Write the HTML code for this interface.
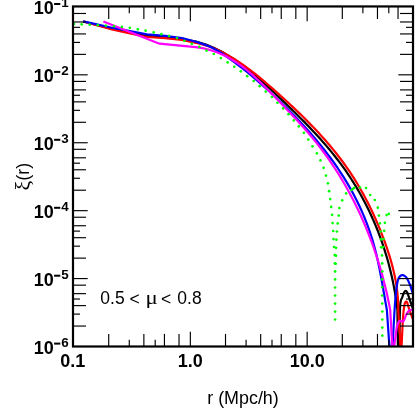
<!DOCTYPE html>
<html><head><meta charset="utf-8"><title>xi(r)</title>
<style>
html,body{margin:0;padding:0;background:#fff;}
body{width:415px;height:418px;overflow:hidden;position:relative;font-family:"Liberation Sans",sans-serif;}
svg text{font-family:"Liberation Sans",sans-serif;fill:#000;}
.b{font-weight:bold;font-size:18px;}
.s{font-weight:bold;font-size:13.4px;}
.r{font-size:17.5px;}
.g{font-family:"Liberation Serif",serif;font-size:17.5px;}
</style></head><body>
<svg width="415" height="418" viewBox="0 0 415 418" style="position:absolute;left:0;top:0;will-change:transform;opacity:0.9999">
<defs><clipPath id="cp"><rect x="73.0" y="6.45" width="340.0" height="340.05"/></clipPath></defs>
<rect x="0" y="0" width="415" height="418" fill="#fff"/>
<g fill="none" clip-path="url(#cp)" stroke-linejoin="round" stroke-linecap="butt">
<path d="M83.20,21.50 L111.00,28.50 L130.00,32.20 L147.00,35.70 L165.00,37.00 L182.00,39.00 L196.00,41.50 L205.96,44.65 L208.94,45.80 L211.88,47.02 L214.76,48.30 L217.60,49.66 L220.39,51.07 L223.14,52.55 L225.85,54.09 L228.52,55.68 L231.15,57.32 L233.75,59.01 L236.31,60.75 L238.84,62.53 L241.34,64.36 L243.82,66.22 L246.27,68.11 L248.69,70.04 L251.10,72.00 L253.48,73.99 L255.85,76.01 L258.20,78.05 L260.53,80.11 L262.85,82.19 L265.16,84.28 L267.46,86.39 L269.75,88.52 L272.03,90.65 L274.31,92.79 L276.59,94.94 L278.86,97.09 L281.13,99.24 L283.40,101.40 L285.66,103.57 L287.92,105.74 L290.18,107.91 L292.42,110.10 L294.66,112.29 L296.89,114.49 L299.11,116.70 L301.33,118.91 L303.53,121.14 L305.72,123.37 L307.89,125.62 L310.06,127.88 L312.21,130.15 L314.34,132.43 L316.46,134.72 L318.57,137.03 L320.65,139.35 L322.72,141.68 L324.77,144.03 L326.80,146.39 L328.81,148.77 L330.80,151.17 L332.77,153.58 L334.71,156.01 L336.63,158.46 L338.53,160.92 L340.40,163.41 L342.24,165.91 L344.06,168.43 L345.85,170.98 L347.62,173.54 L349.35,176.13 L351.05,178.73 L352.73,181.35 L354.38,184.00 L356.00,186.66 L357.59,189.34 L359.15,192.03 L360.69,194.75 L362.19,197.48 L363.67,200.23 L365.12,202.99 L366.54,205.77 L367.93,208.56 L369.29,211.38 L370.62,214.20 L371.92,217.04 L373.19,219.89 L374.44,222.76 L375.65,225.64 L376.83,228.53 L377.99,231.43 L379.11,234.35 L380.21,237.28 L381.27,240.22 L382.31,243.17 L383.31,246.13 L384.29,249.10 L385.24,252.08 L386.15,255.07 L387.04,258.06 L387.89,261.07 L388.72,264.08 L389.51,267.10 L390.27,270.13 L391.01,273.17 L391.71,276.21 L392.38,279.25 L393.02,282.31 L393.63,285.37 L394.21,288.43 L394.76,291.50 L395.28,294.57 L395.77,297.64 L396.22,300.72 L396.65,303.80 L397.04,306.89 L397.40,309.97 L398.00,352.00" stroke="#000" stroke-width="2.2"/>
<path d="M399.30,352.00 C399.43,344.43 399.60,315.73 400.10,306.60 C400.60,297.47 401.62,299.58 402.30,297.20 C402.98,294.82 403.62,293.35 404.20,292.30 C404.78,291.25 405.28,290.85 405.80,290.90 C406.32,290.95 406.78,291.55 407.30,292.60 C407.82,293.65 408.27,295.35 408.90,297.20 C409.53,299.05 410.25,301.23 411.10,303.70 C411.95,306.17 413.52,310.62 414.00,312.00" stroke="#000" stroke-width="2.2"/>
<path d="M83.20,21.50 L112.00,29.50 L130.00,33.30 L147.00,37.00 L165.00,38.20 L182.00,40.00 L196.00,42.80 L205.99,45.35 L209.00,46.43 L211.96,47.58 L214.87,48.80 L217.75,50.09 L220.58,51.44 L223.38,52.85 L226.14,54.32 L228.87,55.84 L231.56,57.41 L234.22,59.04 L236.85,60.71 L239.46,62.43 L242.03,64.18 L244.58,65.98 L247.11,67.81 L249.62,69.67 L252.11,71.57 L254.57,73.49 L257.02,75.45 L259.46,77.42 L261.88,79.42 L264.28,81.44 L266.67,83.48 L269.05,85.53 L271.43,87.60 L273.79,89.68 L276.15,91.77 L278.50,93.86 L280.84,95.97 L283.18,98.08 L285.51,100.20 L287.83,102.33 L290.14,104.47 L292.44,106.62 L294.74,108.78 L297.02,110.95 L299.29,113.13 L301.54,115.32 L303.79,117.53 L306.02,119.74 L308.23,121.97 L310.43,124.22 L312.62,126.47 L314.78,128.74 L316.93,131.03 L319.07,133.33 L321.18,135.64 L323.28,137.97 L325.35,140.32 L327.40,142.68 L329.44,145.06 L331.45,147.46 L333.43,149.87 L335.40,152.30 L337.34,154.75 L339.25,157.22 L341.14,159.71 L343.01,162.22 L344.84,164.75 L346.65,167.30 L348.43,169.87 L350.19,172.47 L351.91,175.08 L353.60,177.71 L355.27,180.37 L356.91,183.04 L358.52,185.73 L360.10,188.44 L361.65,191.17 L363.18,193.91 L364.68,196.68 L366.15,199.45 L367.59,202.25 L369.01,205.05 L370.40,207.88 L371.76,210.71 L373.10,213.56 L374.41,216.43 L375.69,219.30 L376.95,222.19 L378.18,225.09 L379.39,227.99 L380.57,230.91 L381.72,233.84 L382.85,236.78 L383.95,239.73 L385.03,242.68 L386.08,245.64 L387.11,248.61 L388.10,251.59 L389.06,254.58 L389.98,257.57 L390.87,260.58 L391.71,263.59 L392.52,266.61 L393.28,269.65 L393.99,272.69 L394.66,275.74 L395.28,278.80 L395.85,281.87 L396.36,284.95 L396.81,288.05 L397.21,291.15 L397.55,294.26 L397.82,297.39 L398.04,300.52 L398.18,303.67 L398.26,306.82 L398.26,309.99 L400.80,352.00" stroke="#f00" stroke-width="2.2"/>
<path d="M401.30,352.00 C401.58,346.33 402.50,325.75 403.00,318.00 C403.50,310.25 403.90,308.12 404.30,305.50 C404.70,302.88 405.07,302.95 405.40,302.30 C405.73,301.65 405.98,301.52 406.30,301.60 C406.62,301.68 406.88,301.73 407.30,302.80 C407.72,303.87 408.08,305.83 408.80,308.00 C409.52,310.17 410.73,313.47 411.60,315.80 C412.47,318.13 413.60,320.97 414.00,322.00" stroke="#f00" stroke-width="2.2"/>
<path d="M83.20,21.40 L110.00,27.30 L130.00,31.00 L147.00,34.30 L165.00,35.90 L182.00,38.00 L196.00,41.80 L206.03,45.16 L208.89,46.32 L211.68,47.60 L214.40,48.98 L217.06,50.46 L219.67,52.01 L222.24,53.63 L224.77,55.31 L227.28,57.04 L229.76,58.80 L232.22,60.60 L234.67,62.41 L237.11,64.25 L239.54,66.09 L241.96,67.95 L244.37,69.83 L246.76,71.73 L249.13,73.66 L251.48,75.60 L253.82,77.57 L256.14,79.55 L258.44,81.55 L260.73,83.58 L263.01,85.61 L265.28,87.66 L267.53,89.73 L269.78,91.81 L272.01,93.90 L274.24,96.00 L276.45,98.11 L278.66,100.23 L280.87,102.36 L283.06,104.50 L285.24,106.65 L287.42,108.80 L289.58,110.97 L291.74,113.15 L293.88,115.34 L296.01,117.54 L298.13,119.76 L300.23,121.98 L302.32,124.22 L304.39,126.47 L306.46,128.73 L308.50,131.01 L310.53,133.30 L312.54,135.60 L314.54,137.92 L316.51,140.25 L318.47,142.60 L320.41,144.96 L322.33,147.34 L324.23,149.74 L326.11,152.15 L327.97,154.57 L329.80,157.02 L331.61,159.48 L333.40,161.95 L335.17,164.45 L336.91,166.96 L338.63,169.50 L340.32,172.05 L341.98,174.62 L343.62,177.20 L345.23,179.81 L346.82,182.43 L348.37,185.07 L349.90,187.73 L351.40,190.40 L352.86,193.10 L354.30,195.80 L355.71,198.53 L357.09,201.26 L358.43,204.02 L359.74,206.79 L361.02,209.57 L362.27,212.37 L363.48,215.18 L364.66,218.01 L365.80,220.85 L366.91,223.70 L367.98,226.57 L369.01,229.44 L370.01,232.34 L370.97,235.24 L371.90,238.15 L372.78,241.08 L373.63,244.02 L374.44,246.97 L375.21,249.92 L375.96,252.89 L376.67,255.86 L377.36,258.85 L378.02,261.84 L378.66,264.83 L379.28,267.83 L379.88,270.84 L380.46,273.85 L381.03,276.86 L381.58,279.87 L382.13,282.89 L382.66,285.91 L383.19,288.93 L383.72,291.94 L384.24,294.96 L384.76,297.97 L385.28,300.99 L385.81,304.00 L386.35,307.00 L386.89,310.00 L389.00,340.50 L390.30,352.00" stroke="#00f" stroke-width="2.2"/>
<path d="M392.20,352.00 C392.32,350.00 392.45,347.83 392.90,340.00 C393.35,332.17 394.28,313.78 394.90,305.00 C395.52,296.22 396.08,291.47 396.60,287.30 C397.12,283.13 397.45,281.83 398.00,280.00 C398.55,278.17 399.20,277.10 399.90,276.30 C400.60,275.50 401.42,275.27 402.20,275.20 C402.98,275.13 403.82,275.40 404.60,275.90 C405.38,276.40 405.97,276.63 406.90,278.20 C407.83,279.77 409.33,283.15 410.20,285.30 C411.07,287.45 411.47,289.32 412.10,291.10 C412.73,292.88 413.68,295.18 414.00,296.00" stroke="#00f" stroke-width="2.2"/>
<path d="M103.40,21.60 L159.50,43.70 L195.80,47.16 L199.05,47.58 L202.24,48.12 L205.38,48.78 L208.47,49.56 L211.51,50.44 L214.51,51.43 L217.45,52.52 L220.34,53.71 L223.19,54.99 L225.98,56.36 L228.73,57.82 L231.43,59.35 L234.09,60.96 L236.70,62.65 L239.26,64.40 L241.78,66.21 L244.26,68.08 L246.70,70.01 L249.11,71.99 L251.48,74.02 L253.82,76.09 L256.14,78.20 L258.43,80.35 L260.70,82.52 L262.95,84.72 L265.18,86.95 L267.40,89.19 L269.60,91.45 L271.80,93.72 L273.99,95.99 L276.18,98.27 L278.36,100.54 L280.54,102.82 L282.72,105.09 L284.90,107.37 L287.07,109.64 L289.23,111.92 L291.38,114.21 L293.52,116.50 L295.66,118.80 L297.78,121.11 L299.89,123.42 L301.98,125.75 L304.06,128.09 L306.12,130.44 L308.17,132.80 L310.19,135.19 L312.20,137.58 L314.18,140.00 L316.14,142.43 L318.08,144.88 L320.00,147.35 L321.89,149.84 L323.76,152.35 L325.61,154.87 L327.44,157.42 L329.24,159.97 L331.01,162.55 L332.77,165.14 L334.50,167.75 L336.20,170.38 L337.88,173.02 L339.54,175.68 L341.17,178.35 L342.78,181.04 L344.37,183.75 L345.93,186.47 L347.46,189.20 L348.98,191.95 L350.47,194.71 L351.93,197.48 L353.37,200.27 L354.79,203.07 L356.19,205.89 L357.56,208.71 L358.90,211.55 L360.22,214.40 L361.52,217.26 L362.80,220.13 L364.05,223.01 L365.28,225.90 L366.48,228.81 L367.66,231.72 L368.82,234.64 L369.96,237.57 L371.07,240.51 L372.15,243.46 L373.22,246.42 L374.26,249.38 L375.27,252.36 L376.27,255.34 L377.24,258.32 L378.18,261.32 L379.11,264.32 L380.01,267.33 L380.89,270.34 L381.74,273.36 L382.57,276.38 L383.38,279.41 L384.17,282.44 L384.93,285.48 L385.67,288.52 L386.38,291.57 L387.08,294.61 L387.75,297.67 L388.39,300.72 L389.02,303.78 L389.62,306.84 L390.20,309.90 L392.20,345.00 L392.80,352.00" stroke="#f0f" stroke-width="2.2"/>
<path d="M393.60,352.00 C393.73,350.83 393.83,349.25 394.40,345.00 C394.97,340.75 396.20,330.48 397.00,326.50 C397.80,322.52 398.12,322.00 399.20,321.10 C400.28,320.20 402.33,322.17 403.50,321.10 C404.67,320.03 405.22,316.48 406.20,314.70 C407.18,312.92 408.42,311.22 409.40,310.40 C410.38,309.58 411.33,309.90 412.10,309.80 C412.87,309.70 413.68,309.80 414.00,309.80" stroke="#f0f" stroke-width="2.2"/>
<g fill="#0f0" stroke="none"><circle cx="74.00" cy="23.90" r="1.33"/><circle cx="81.70" cy="24.30" r="1.33"/><circle cx="89.70" cy="24.70" r="1.33"/><circle cx="97.80" cy="25.20" r="1.33"/><circle cx="105.80" cy="25.60" r="1.33"/><circle cx="114.00" cy="26.15" r="1.33"/><circle cx="121.80" cy="26.90" r="1.33"/><circle cx="129.80" cy="27.80" r="1.33"/><circle cx="137.80" cy="29.30" r="1.33"/><circle cx="145.60" cy="30.65" r="1.33"/><circle cx="153.70" cy="32.30" r="1.33"/><circle cx="161.40" cy="34.20" r="1.33"/><circle cx="169.10" cy="35.90" r="1.33"/><circle cx="177.00" cy="38.10" r="1.33"/><circle cx="184.40" cy="40.80" r="1.33"/><circle cx="191.80" cy="43.80" r="1.33"/><circle cx="199.40" cy="46.90" r="1.33"/><circle cx="206.50" cy="50.60" r="1.33"/><circle cx="213.80" cy="54.00" r="1.33"/><circle cx="220.80" cy="58.10" r="1.33"/><circle cx="227.60" cy="62.40" r="1.33"/><circle cx="234.30" cy="66.85" r="1.33"/><circle cx="240.80" cy="71.30" r="1.33"/><circle cx="247.20" cy="76.15" r="1.33"/><circle cx="253.70" cy="81.00" r="1.33"/><circle cx="259.65" cy="86.20" r="1.33"/><circle cx="265.75" cy="91.60" r="1.33"/><circle cx="271.85" cy="97.00" r="1.33"/><circle cx="277.40" cy="102.75" r="1.33"/><circle cx="283.10" cy="108.40" r="1.33"/><circle cx="288.50" cy="114.15" r="1.33"/><circle cx="293.80" cy="120.40" r="1.33"/><circle cx="298.80" cy="126.40" r="1.33"/><circle cx="303.90" cy="132.80" r="1.33"/><circle cx="308.40" cy="139.60" r="1.33"/><circle cx="312.50" cy="146.30" r="1.33"/><circle cx="316.90" cy="153.30" r="1.33"/><circle cx="320.50" cy="160.40" r="1.33"/><circle cx="323.60" cy="167.80" r="1.33"/><circle cx="326.00" cy="175.60" r="1.33"/><circle cx="327.90" cy="183.30" r="1.33"/><circle cx="329.10" cy="191.20" r="1.33"/><circle cx="330.20" cy="199.10" r="1.33"/><circle cx="331.20" cy="206.90" r="1.33"/><circle cx="332.10" cy="214.80" r="1.33"/><circle cx="332.60" cy="223.10" r="1.33"/><circle cx="333.20" cy="231.00" r="1.33"/><circle cx="333.50" cy="239.10" r="1.33"/><circle cx="334.00" cy="247.00" r="1.33"/><circle cx="334.70" cy="255.10" r="1.33"/><circle cx="334.90" cy="263.30" r="1.33"/><circle cx="335.10" cy="271.40" r="1.33"/><circle cx="335.10" cy="279.40" r="1.33"/><circle cx="335.10" cy="287.50" r="1.33"/><circle cx="335.10" cy="295.50" r="1.33"/><circle cx="335.10" cy="303.60" r="1.33"/><circle cx="335.10" cy="311.60" r="1.33"/><circle cx="335.10" cy="319.50" r="1.33"/><circle cx="335.70" cy="263.80" r="1.33"/><circle cx="336.00" cy="255.70" r="1.33"/><circle cx="336.00" cy="247.80" r="1.33"/><circle cx="336.40" cy="239.70" r="1.33"/><circle cx="336.90" cy="231.50" r="1.33"/><circle cx="337.70" cy="223.40" r="1.33"/><circle cx="338.70" cy="215.60" r="1.33"/><circle cx="339.30" cy="208.00" r="1.33"/><circle cx="342.20" cy="200.30" r="1.33"/><circle cx="346.10" cy="193.30" r="1.33"/><circle cx="360.10" cy="187.50" r="1.33"/><circle cx="366.00" cy="188.00" r="1.33"/><circle cx="370.20" cy="195.00" r="1.33"/><circle cx="374.80" cy="200.00" r="1.33"/><circle cx="377.80" cy="207.70" r="1.33"/><circle cx="378.90" cy="215.60" r="1.33"/><circle cx="379.90" cy="223.30" r="1.33"/><circle cx="380.70" cy="231.50" r="1.33"/><circle cx="381.00" cy="239.40" r="1.33"/><circle cx="381.20" cy="247.30" r="1.33"/><circle cx="383.00" cy="247.20" r="1.33"/><circle cx="382.00" cy="255.40" r="1.33"/><circle cx="382.20" cy="263.40" r="1.33"/><circle cx="382.30" cy="271.40" r="1.33"/><circle cx="382.20" cy="279.40" r="1.33"/><circle cx="382.20" cy="287.30" r="1.33"/><circle cx="382.20" cy="295.50" r="1.33"/><circle cx="382.20" cy="303.50" r="1.33"/><circle cx="382.30" cy="311.50" r="1.33"/><circle cx="382.30" cy="319.50" r="1.33"/><circle cx="382.30" cy="327.60" r="1.33"/><circle cx="382.30" cy="335.60" r="1.33"/><circle cx="383.60" cy="239.00" r="1.33"/><circle cx="384.20" cy="230.80" r="1.33"/><circle cx="384.90" cy="222.80" r="1.33"/><circle cx="386.60" cy="215.10" r="1.33"/><circle cx="388.80" cy="213.90" r="1.33"/><line x1="351.3" y1="190.1" x2="354.4" y2="187.8" stroke="#0f0" stroke-width="2.4" stroke-linecap="round"/></g>
</g>
<line x1="108.71" y1="346.50" x2="108.71" y2="333.90" stroke="#000" stroke-width="1.15"/>
<line x1="108.71" y1="6.45" x2="108.71" y2="19.05" stroke="#000" stroke-width="1.15"/>
<line x1="129.28" y1="346.50" x2="129.28" y2="339.70" stroke="#000" stroke-width="1.15"/>
<line x1="129.28" y1="6.45" x2="129.28" y2="13.25" stroke="#000" stroke-width="1.15"/>
<line x1="143.87" y1="346.50" x2="143.87" y2="333.90" stroke="#000" stroke-width="1.15"/>
<line x1="143.87" y1="6.45" x2="143.87" y2="19.05" stroke="#000" stroke-width="1.15"/>
<line x1="155.19" y1="346.50" x2="155.19" y2="339.70" stroke="#000" stroke-width="1.15"/>
<line x1="155.19" y1="6.45" x2="155.19" y2="13.25" stroke="#000" stroke-width="1.15"/>
<line x1="164.44" y1="346.50" x2="164.44" y2="333.90" stroke="#000" stroke-width="1.15"/>
<line x1="164.44" y1="6.45" x2="164.44" y2="19.05" stroke="#000" stroke-width="1.15"/>
<line x1="179.03" y1="346.50" x2="179.03" y2="333.90" stroke="#000" stroke-width="1.15"/>
<line x1="179.03" y1="6.45" x2="179.03" y2="19.05" stroke="#000" stroke-width="1.15"/>
<line x1="190.35" y1="346.50" x2="190.35" y2="331.80" stroke="#000" stroke-width="1.15"/>
<line x1="190.35" y1="6.45" x2="190.35" y2="21.15" stroke="#000" stroke-width="1.15"/>
<line x1="225.51" y1="346.50" x2="225.51" y2="333.90" stroke="#000" stroke-width="1.15"/>
<line x1="225.51" y1="6.45" x2="225.51" y2="19.05" stroke="#000" stroke-width="1.15"/>
<line x1="246.08" y1="346.50" x2="246.08" y2="339.70" stroke="#000" stroke-width="1.15"/>
<line x1="246.08" y1="6.45" x2="246.08" y2="13.25" stroke="#000" stroke-width="1.15"/>
<line x1="260.67" y1="346.50" x2="260.67" y2="333.90" stroke="#000" stroke-width="1.15"/>
<line x1="260.67" y1="6.45" x2="260.67" y2="19.05" stroke="#000" stroke-width="1.15"/>
<line x1="271.99" y1="346.50" x2="271.99" y2="339.70" stroke="#000" stroke-width="1.15"/>
<line x1="271.99" y1="6.45" x2="271.99" y2="13.25" stroke="#000" stroke-width="1.15"/>
<line x1="281.24" y1="346.50" x2="281.24" y2="333.90" stroke="#000" stroke-width="1.15"/>
<line x1="281.24" y1="6.45" x2="281.24" y2="19.05" stroke="#000" stroke-width="1.15"/>
<line x1="295.83" y1="346.50" x2="295.83" y2="333.90" stroke="#000" stroke-width="1.15"/>
<line x1="295.83" y1="6.45" x2="295.83" y2="19.05" stroke="#000" stroke-width="1.15"/>
<line x1="307.15" y1="346.50" x2="307.15" y2="331.80" stroke="#000" stroke-width="1.15"/>
<line x1="307.15" y1="6.45" x2="307.15" y2="21.15" stroke="#000" stroke-width="1.15"/>
<line x1="342.31" y1="346.50" x2="342.31" y2="333.90" stroke="#000" stroke-width="1.15"/>
<line x1="342.31" y1="6.45" x2="342.31" y2="19.05" stroke="#000" stroke-width="1.15"/>
<line x1="362.88" y1="346.50" x2="362.88" y2="339.70" stroke="#000" stroke-width="1.15"/>
<line x1="362.88" y1="6.45" x2="362.88" y2="13.25" stroke="#000" stroke-width="1.15"/>
<line x1="377.47" y1="346.50" x2="377.47" y2="333.90" stroke="#000" stroke-width="1.15"/>
<line x1="377.47" y1="6.45" x2="377.47" y2="19.05" stroke="#000" stroke-width="1.15"/>
<line x1="388.79" y1="346.50" x2="388.79" y2="339.70" stroke="#000" stroke-width="1.15"/>
<line x1="388.79" y1="6.45" x2="388.79" y2="13.25" stroke="#000" stroke-width="1.15"/>
<line x1="398.04" y1="346.50" x2="398.04" y2="333.90" stroke="#000" stroke-width="1.15"/>
<line x1="398.04" y1="6.45" x2="398.04" y2="19.05" stroke="#000" stroke-width="1.15"/>
<line x1="73.00" y1="13.48" x2="86.00" y2="13.48" stroke="#000" stroke-width="1.15"/>
<line x1="413.00" y1="13.48" x2="400.00" y2="13.48" stroke="#000" stroke-width="1.15"/>
<line x1="73.00" y1="21.97" x2="86.00" y2="21.97" stroke="#000" stroke-width="1.15"/>
<line x1="413.00" y1="21.97" x2="400.00" y2="21.97" stroke="#000" stroke-width="1.15"/>
<line x1="73.00" y1="27.35" x2="80.00" y2="27.35" stroke="#000" stroke-width="1.15"/>
<line x1="413.00" y1="27.35" x2="406.00" y2="27.35" stroke="#000" stroke-width="1.15"/>
<line x1="73.00" y1="33.93" x2="86.00" y2="33.93" stroke="#000" stroke-width="1.15"/>
<line x1="413.00" y1="33.93" x2="400.00" y2="33.93" stroke="#000" stroke-width="1.15"/>
<line x1="73.00" y1="42.41" x2="80.00" y2="42.41" stroke="#000" stroke-width="1.15"/>
<line x1="413.00" y1="42.41" x2="406.00" y2="42.41" stroke="#000" stroke-width="1.15"/>
<line x1="73.00" y1="54.37" x2="86.00" y2="54.37" stroke="#000" stroke-width="1.15"/>
<line x1="413.00" y1="54.37" x2="400.00" y2="54.37" stroke="#000" stroke-width="1.15"/>
<line x1="73.00" y1="74.82" x2="87.70" y2="74.82" stroke="#000" stroke-width="1.15"/>
<line x1="413.00" y1="74.82" x2="398.30" y2="74.82" stroke="#000" stroke-width="1.15"/>
<line x1="73.00" y1="81.40" x2="86.00" y2="81.40" stroke="#000" stroke-width="1.15"/>
<line x1="413.00" y1="81.40" x2="400.00" y2="81.40" stroke="#000" stroke-width="1.15"/>
<line x1="73.00" y1="89.89" x2="86.00" y2="89.89" stroke="#000" stroke-width="1.15"/>
<line x1="413.00" y1="89.89" x2="400.00" y2="89.89" stroke="#000" stroke-width="1.15"/>
<line x1="73.00" y1="95.27" x2="80.00" y2="95.27" stroke="#000" stroke-width="1.15"/>
<line x1="413.00" y1="95.27" x2="406.00" y2="95.27" stroke="#000" stroke-width="1.15"/>
<line x1="73.00" y1="101.85" x2="86.00" y2="101.85" stroke="#000" stroke-width="1.15"/>
<line x1="413.00" y1="101.85" x2="400.00" y2="101.85" stroke="#000" stroke-width="1.15"/>
<line x1="73.00" y1="110.33" x2="80.00" y2="110.33" stroke="#000" stroke-width="1.15"/>
<line x1="413.00" y1="110.33" x2="406.00" y2="110.33" stroke="#000" stroke-width="1.15"/>
<line x1="73.00" y1="122.29" x2="86.00" y2="122.29" stroke="#000" stroke-width="1.15"/>
<line x1="413.00" y1="122.29" x2="400.00" y2="122.29" stroke="#000" stroke-width="1.15"/>
<line x1="73.00" y1="142.74" x2="87.70" y2="142.74" stroke="#000" stroke-width="1.15"/>
<line x1="413.00" y1="142.74" x2="398.30" y2="142.74" stroke="#000" stroke-width="1.15"/>
<line x1="73.00" y1="149.32" x2="86.00" y2="149.32" stroke="#000" stroke-width="1.15"/>
<line x1="413.00" y1="149.32" x2="400.00" y2="149.32" stroke="#000" stroke-width="1.15"/>
<line x1="73.00" y1="157.81" x2="86.00" y2="157.81" stroke="#000" stroke-width="1.15"/>
<line x1="413.00" y1="157.81" x2="400.00" y2="157.81" stroke="#000" stroke-width="1.15"/>
<line x1="73.00" y1="163.19" x2="80.00" y2="163.19" stroke="#000" stroke-width="1.15"/>
<line x1="413.00" y1="163.19" x2="406.00" y2="163.19" stroke="#000" stroke-width="1.15"/>
<line x1="73.00" y1="169.77" x2="86.00" y2="169.77" stroke="#000" stroke-width="1.15"/>
<line x1="413.00" y1="169.77" x2="400.00" y2="169.77" stroke="#000" stroke-width="1.15"/>
<line x1="73.00" y1="178.25" x2="80.00" y2="178.25" stroke="#000" stroke-width="1.15"/>
<line x1="413.00" y1="178.25" x2="406.00" y2="178.25" stroke="#000" stroke-width="1.15"/>
<line x1="73.00" y1="190.21" x2="86.00" y2="190.21" stroke="#000" stroke-width="1.15"/>
<line x1="413.00" y1="190.21" x2="400.00" y2="190.21" stroke="#000" stroke-width="1.15"/>
<line x1="73.00" y1="210.66" x2="87.70" y2="210.66" stroke="#000" stroke-width="1.15"/>
<line x1="413.00" y1="210.66" x2="398.30" y2="210.66" stroke="#000" stroke-width="1.15"/>
<line x1="73.00" y1="217.24" x2="86.00" y2="217.24" stroke="#000" stroke-width="1.15"/>
<line x1="413.00" y1="217.24" x2="400.00" y2="217.24" stroke="#000" stroke-width="1.15"/>
<line x1="73.00" y1="225.73" x2="86.00" y2="225.73" stroke="#000" stroke-width="1.15"/>
<line x1="413.00" y1="225.73" x2="400.00" y2="225.73" stroke="#000" stroke-width="1.15"/>
<line x1="73.00" y1="231.11" x2="80.00" y2="231.11" stroke="#000" stroke-width="1.15"/>
<line x1="413.00" y1="231.11" x2="406.00" y2="231.11" stroke="#000" stroke-width="1.15"/>
<line x1="73.00" y1="237.69" x2="86.00" y2="237.69" stroke="#000" stroke-width="1.15"/>
<line x1="413.00" y1="237.69" x2="400.00" y2="237.69" stroke="#000" stroke-width="1.15"/>
<line x1="73.00" y1="246.17" x2="80.00" y2="246.17" stroke="#000" stroke-width="1.15"/>
<line x1="413.00" y1="246.17" x2="406.00" y2="246.17" stroke="#000" stroke-width="1.15"/>
<line x1="73.00" y1="258.13" x2="86.00" y2="258.13" stroke="#000" stroke-width="1.15"/>
<line x1="413.00" y1="258.13" x2="400.00" y2="258.13" stroke="#000" stroke-width="1.15"/>
<line x1="73.00" y1="278.58" x2="87.70" y2="278.58" stroke="#000" stroke-width="1.15"/>
<line x1="413.00" y1="278.58" x2="398.30" y2="278.58" stroke="#000" stroke-width="1.15"/>
<line x1="73.00" y1="285.16" x2="86.00" y2="285.16" stroke="#000" stroke-width="1.15"/>
<line x1="413.00" y1="285.16" x2="400.00" y2="285.16" stroke="#000" stroke-width="1.15"/>
<line x1="73.00" y1="293.65" x2="86.00" y2="293.65" stroke="#000" stroke-width="1.15"/>
<line x1="413.00" y1="293.65" x2="400.00" y2="293.65" stroke="#000" stroke-width="1.15"/>
<line x1="73.00" y1="299.03" x2="80.00" y2="299.03" stroke="#000" stroke-width="1.15"/>
<line x1="413.00" y1="299.03" x2="406.00" y2="299.03" stroke="#000" stroke-width="1.15"/>
<line x1="73.00" y1="305.61" x2="86.00" y2="305.61" stroke="#000" stroke-width="1.15"/>
<line x1="413.00" y1="305.61" x2="400.00" y2="305.61" stroke="#000" stroke-width="1.15"/>
<line x1="73.00" y1="314.09" x2="80.00" y2="314.09" stroke="#000" stroke-width="1.15"/>
<line x1="413.00" y1="314.09" x2="406.00" y2="314.09" stroke="#000" stroke-width="1.15"/>
<line x1="73.00" y1="326.05" x2="86.00" y2="326.05" stroke="#000" stroke-width="1.15"/>
<line x1="413.00" y1="326.05" x2="400.00" y2="326.05" stroke="#000" stroke-width="1.15"/>
<rect x="73.0" y="6.45" width="340.0" height="340.05" fill="none" stroke="#000" stroke-width="2.2"/>
<text class="b" x="33.75" y="14.4">10</text>
<rect x="54.1" y="3.0" width="6.2" height="2" fill="#000"/>
<text class="s" x="61.2" y="7.1">1</text>
<text class="b" x="33.75" y="82.3">10</text>
<rect x="54.1" y="70.9" width="6.2" height="2" fill="#000"/>
<text class="s" x="61.2" y="75.0">2</text>
<text class="b" x="33.75" y="150.2">10</text>
<rect x="54.1" y="138.8" width="6.2" height="2" fill="#000"/>
<text class="s" x="61.2" y="142.9">3</text>
<text class="b" x="33.75" y="218.2">10</text>
<rect x="54.1" y="206.8" width="6.2" height="2" fill="#000"/>
<text class="s" x="61.2" y="210.9">4</text>
<text class="b" x="33.75" y="286.1">10</text>
<rect x="54.1" y="274.7" width="6.2" height="2" fill="#000"/>
<text class="s" x="61.2" y="278.8">5</text>
<text class="b" x="33.75" y="354.0">10</text>
<rect x="54.1" y="342.6" width="6.2" height="2" fill="#000"/>
<text class="s" x="61.2" y="346.7">6</text>
<text class="b" x="72.8" y="367.4" text-anchor="middle">0.1</text>
<text class="b" x="190.3" y="367.4" text-anchor="middle">1.0</text>
<text class="b" x="307.3" y="367.4" text-anchor="middle">10.0</text>
<text class="r" style="font-size:17.9px" x="243" y="404.1" text-anchor="middle">r (Mpc/h)</text>
<text class="g" style="font-size:21.6px" transform="translate(30.0,190.6) rotate(-90)">ξ</text>
<text class="r" transform="translate(29.4,180.5) rotate(-90)">(r)</text>
<text class="r" x="100.3" y="303.7">0.5</text>
<text class="r" x="129.6" y="304.9">&lt;</text>
<text class="g" style="font-size:19px" transform="translate(145.6,304) scale(1.2,1)">μ</text>
<text class="r" x="160.9" y="304.9">&lt;</text>
<text class="r" x="177.3" y="303.7">0.8</text>
</svg>
</body></html>
